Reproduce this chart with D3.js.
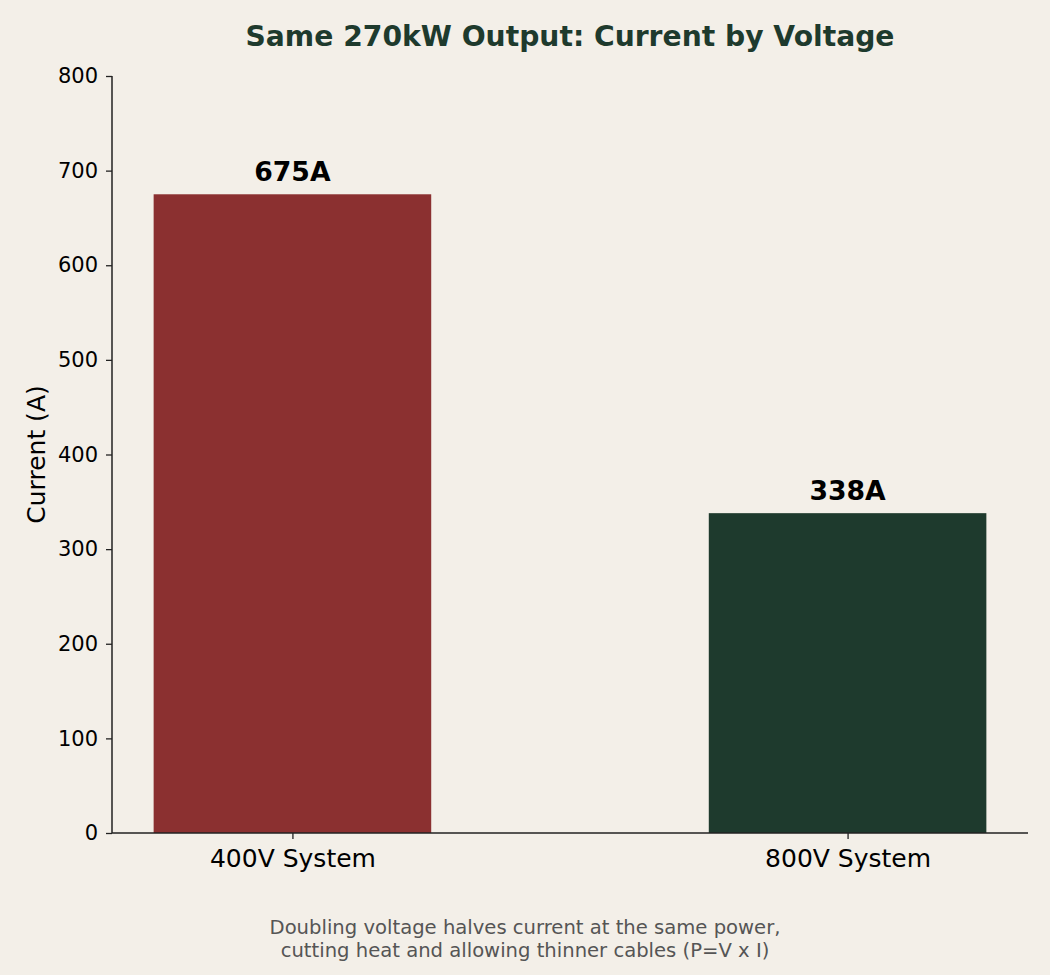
<!DOCTYPE html>
<html>
<head>
<meta charset="utf-8">
<script src="https://cdn.jsdelivr.net/npm/d3@7"></script>
<style>
  html, body { margin: 0; padding: 0; background: #f3efe8; }
  svg { display: block; font-family: "DejaVu Sans", sans-serif; }
</style>
</head>
<body>
<svg id="chart"></svg>
<script>
// chart data
var systems = ["400V System", "800V System"];
var currents = [675, 338];
var barLabels = ["675A", "338A"];
var barColors = ["#8b3030", "#1e3a2d"];
var yTicks = [0, 100, 200, 300, 400, 500, 600, 700, 800];
var noteLines = ["Doubling voltage halves current at the same power,",
                 "cutting heat and allowing thinner cables (P=V x I)"];

var WIDTH = 1050;
var HEIGHT = 975;
var margin = {top: 76, right: 22, bottom: 142, left: 112};
var innerW = WIDTH - margin.left - margin.right;
var innerH = HEIGHT - margin.top - margin.bottom;

var svg = d3.select("#chart")
    .attr("width", WIDTH)
    .attr("height", HEIGHT);

svg.append("rect")
    .attr("width", WIDTH)
    .attr("height", HEIGHT)
    .attr("fill", "#f3efe8");

var g = svg.append("g")
    .attr("transform", "translate(" + margin.left + "," + margin.top + ")");

// bars sit at 0 and 1, width 0.5, like a plain bar plot
var x = d3.scaleLinear().domain([-0.325, 1.325]).range([0, innerW]);
var y = d3.scaleLinear().domain([0, 800]).range([innerH, 0]);
var barW = 0.5;

g.selectAll("rect.bar")
    .data(currents)
    .enter().append("rect")
    .attr("class", "bar")
    .attr("x", function(d, i) { return x(i - barW / 2); })
    .attr("width", function() { return x(barW) - x(0); })
    .attr("y", function(d) { return y(d); })
    .attr("height", function(d) { return y(0) - y(d); })
    .attr("fill", function(d, i) { return barColors[i]; });

g.selectAll("text.barlabel")
    .data(currents)
    .enter().append("text")
    .attr("class", "barlabel")
    .attr("x", function(d, i) { return x(i); })
    .attr("y", function(d) { return y(d) - 13; })
    .attr("text-anchor", "middle")
    .attr("font-size", "26.7px")
    .attr("font-weight", "bold")
    .attr("fill", "#000")
    .text(function(d, i) { return barLabels[i]; });

// y axis
var yAxis = g.append("g")
    .call(d3.axisLeft(y).tickValues(yTicks).tickSize(6).tickPadding(8));
yAxis.selectAll("text").attr("font-size", "21px").attr("fill", "#000")
    .attr("font-family", "DejaVu Sans");
yAxis.selectAll("line").attr("stroke", "#222").attr("stroke-width", 1.3);
yAxis.select(".domain").attr("d", "M0," + innerH + "V0")
    .attr("stroke", "#222").attr("stroke-width", 1.5);

// x axis
var xAxis = g.append("g")
    .attr("transform", "translate(0," + innerH + ")")
    .call(d3.axisBottom(x).tickValues([0, 1]).tickSize(6).tickPadding(10)
        .tickFormat(function(d) { return systems[d]; }));
xAxis.selectAll("text").attr("font-size", "25px").attr("fill", "#000")
    .attr("font-family", "DejaVu Sans");
xAxis.selectAll("line").attr("stroke", "#222").attr("stroke-width", 1.3);
xAxis.select(".domain").attr("d", "M0,0H" + innerW)
    .attr("stroke", "#222").attr("stroke-width", 1.5);

// y label
svg.append("text")
    .attr("transform", "translate(45," + (margin.top + innerH / 2) + ") rotate(-90)")
    .attr("text-anchor", "middle")
    .attr("font-size", "25px")
    .attr("fill", "#000")
    .text("Current (A)");

// title
svg.append("text")
    .attr("x", margin.left + innerW / 2)
    .attr("y", 46)
    .attr("text-anchor", "middle")
    .attr("font-size", "28.2px")
    .attr("font-weight", "bold")
    .attr("fill", "#1e3a2d")
    .text("Same 270kW Output: Current by Voltage");

// note under the chart
svg.append("g").selectAll("text")
    .data(noteLines)
    .enter().append("text")
    .attr("x", WIDTH / 2)
    .attr("y", function(d, i) { return 934 + i * 22.5; })
    .attr("text-anchor", "middle")
    .attr("font-size", "19.6px")
    .attr("fill", "#555")
    .text(function(d) { return d; });
</script>
</body>
</html>
